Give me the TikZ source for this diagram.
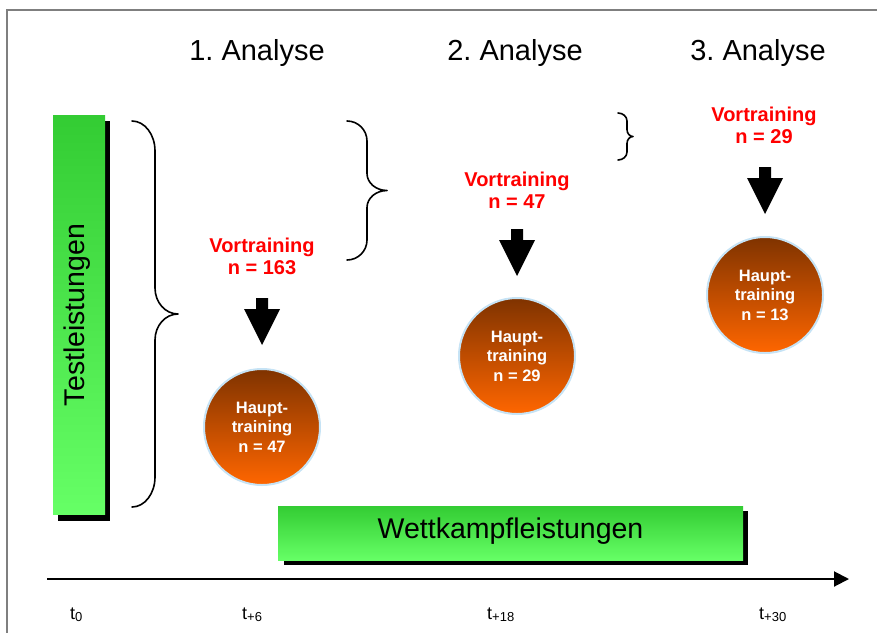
\documentclass[tikz,border=0pt]{standalone}
\usepackage{fontspec}
\setmainfont{Liberation Sans}
\usetikzlibrary{arrows.meta}

\definecolor{barTop}{HTML}{33CC33}
\definecolor{barBot}{HTML}{66FF66}
\definecolor{ballTop}{HTML}{7F3300}
\definecolor{ballBot}{HTML}{FF6600}
\definecolor{ballRim}{HTML}{C6E3F5}
\definecolor{frameGray}{HTML}{7F7F7F}

% time index: t with a lowered, smaller subscript
\newcommand{\tidx}[1]{t\raisebox{-2.5pt}{\fontsize{13}{13}\selectfont #1}}

% curly brace opening to the right
% #1 x of the ends, #2 top y, #3 bottom y, #4 x of the spine, #5 x of the tip,
% #6 radius of the end curls, #7 radius of the middle curls
\newcommand{\rightcurly}[7]{%
  \pgfmathsetmacro{\bmid}{(#2+#3)/2}%
  \pgfmathsetmacro{\bdxE}{0.552*(#4-#1)}%
  \pgfmathsetmacro{\bdyE}{0.552*#6}%
  \pgfmathsetmacro{\bdxM}{0.552*(#5-#4)}%
  \pgfmathsetmacro{\bdyM}{0.552*#7}%
  \draw[bracket] (#1,#2) .. controls (#1+\bdxE,#2) and (#4,#2+#6-\bdyE) .. (#4,#2+#6)
    -- (#4,\bmid-#7) .. controls (#4,\bmid-#7+\bdyM) and (#5-\bdxM,\bmid) .. (#5,\bmid)
    .. controls (#5-\bdxM,\bmid) and (#4,\bmid+#7-\bdyM) .. (#4,\bmid+#7)
    -- (#4,#3-#6) .. controls (#4,#3-#6+\bdyE) and (#1+\bdxE,#3) .. (#1,#3);}

\begin{document}
\frenchspacing
\begin{tikzpicture}[x=1pt,y=-1pt,
  title/.style={font=\fontsize{29}{34}\selectfont, anchor=base, inner sep=0},
  vortext/.style={font=\fontsize{20}{22}\selectfont\bfseries, text=red, align=center, anchor=north, inner sep=0},
  ball/.style={circle, minimum size=116, inner sep=0, top color=ballTop, bottom color=ballBot,
    draw=ballRim, line width=2, text=white, font=\fontsize{16.5}{19.5}\selectfont\bfseries, align=center},
  barface/.style={rectangle, inner sep=0, top color=barTop, bottom color=barBot},
  barshadow/.style={rectangle, inner sep=0, fill=black},
  bracket/.style={line width=1.6, line cap=round, line join=round},
  ticklabel/.style={font=\fontsize{18}{21}\selectfont, anchor=base west, inner sep=0},
  blockarrow/.pic={\fill (-6,0) -- (6,0) -- (6,11) -- (18,11) -- (0,47) -- (-18,11) -- (-6,11) -- cycle;}
]
\useasboundingbox (0,0) rectangle (877,632);

% outer frame
\draw[frameGray, line width=1.5] (7,640) -- (7,10) -- (880,10);

% headings
\node[title] (a1) at (257,60) {1. Analyse};
\node[title] (a2) at (515,60) {2. Analyse};
\node[title] (a3) at (758,60) {3. Analyse};

% vertical bar: test results
\node[barshadow, minimum width=52, minimum height=400] (lbarsh) at (84,321) {};
\node[barface, minimum width=52, minimum height=399] (lbar) at (79,314.5) {};
\node[font=\fontsize{28.5}{34}\selectfont, rotate=90, anchor=base, inner sep=0] (ltext) at (84,315) {Testleistungen};

% horizontal bar: competition results
\node[barshadow, minimum width=464, minimum height=54] (bbarsh) at (516,538) {};
\node[barface, minimum width=465, minimum height=54] (bbar) at (510.5,533) {};
\node[font=\fontsize{28.5}{34}\selectfont, anchor=base, inner sep=0] (btext) at (510.5,538) {Wettkampfleistungen};

% braces
\rightcurly{132}{121}{507}{155}{178}{30}{26}
\rightcurly{347}{121}{260}{367}{387}{20}{17}
\rightcurly{618}{113}{160}{627}{633}{8}{7}

% pre-training groups
\node[vortext] (v1) at (262,238) {Vortraining\\n = 163};
\node[vortext] (v2) at (517,172) {Vortraining\\n = 47};
\node[vortext] (v3) at (764,107) {Vortraining\\n = 29};

% block arrows
\pic at (262,298) {blockarrow};
\pic at (517,229) {blockarrow};
\pic at (765,167) {blockarrow};

% main-training groups
\node[ball] (h1) at (262,427) {Haupt-\\training\\n = 47};
\node[ball] (h2) at (517,356) {Haupt-\\training\\n = 29};
\node[ball] (h3) at (765,295) {Haupt-\\training\\n = 13};

% time axis
\coordinate (ax0) at (47,579);
\coordinate (ax1) at (849,579);
\draw[line width=2, -{Triangle[length=15pt,width=15pt]}] (ax0) -- (ax1);

\node[ticklabel] (t0) at (70,619) {\tidx{0}};
\node[ticklabel] (t6) at (242,619) {\tidx{+6}};
\node[ticklabel] (t18) at (487,619) {\tidx{+18}};
\node[ticklabel] (t30) at (759,619) {\tidx{+30}};
\end{tikzpicture}
\end{document}
